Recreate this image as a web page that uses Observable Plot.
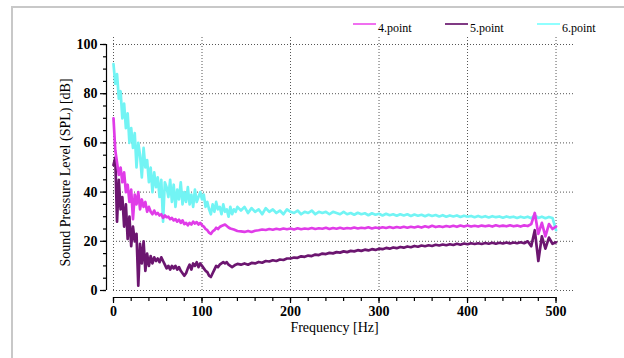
<!DOCTYPE html>
<html>
<head>
<meta charset="utf-8">
<script src="https://cdn.jsdelivr.net/npm/d3@7"></script>
<script src="https://cdn.jsdelivr.net/npm/@observablehq/plot@0.6"></script>
<style>
html,body{margin:0;padding:0;background:#fff;}
#wrap{position:relative;width:624px;height:358px;overflow:hidden;}
#frame{position:absolute;left:11px;top:6px;width:800px;height:600px;border-left:2px solid #c8c8c8;border-top:2px solid #c8c8c8;}
#chart{position:absolute;left:0;top:0;}
.lgline{position:absolute;height:0;width:23px;border-top:2px solid;}
.lgtext{position:absolute;font-family:"Liberation Serif",serif;font-size:12px;line-height:16px;color:#000;white-space:nowrap;}
</style>
</head>
<body>
<div id="wrap"><div id="frame"></div><div id="chart"></div><div id="legend"></div></div>
<script>
// ---- data ----
const seriesNames = ["4.point", "5.point", "6.point"];
const seriesColors = ["#e03ce8", "#6c1670", "#72f4f4"];
const legendColors = ["#f070f0", "#803a84", "#90ffff"];

const freq = [
  0,2,4,6,8,10,12,14,16,18,
  20,22,24,26,28,30,32,34,36,38,
  40,42,44,46,48,50,52,54,56,58,
  60,62,64,66,68,70,72,74,76,78,
  80,82,84,86,88,90,92,94,96,98,
  100,102,104,106,108,110,112,114,116,118,
  120,122,124,126,128,130,132,134,136,138,
  140,
  144,148,152,156,160,164,168,172,176,180,
  184,188,192,196,200,204,208,212,216,220,
  224,228,232,236,240,244,248,252,256,260,
  264,268,272,276,280,284,288,292,296,300,
  304,308,312,316,320,324,328,332,336,340,
  344,348,352,356,360,364,368,372,376,380,
  384,388,392,396,400,404,408,412,416,420,
  424,428,432,436,440,444,448,452,456,460,
  464,468,472,476,480,484,488,492,496,500
];

const point4 = [
  70,57,52,47,50,44,48,40,43,36,
  41,29,39,35,40,33,37,34,36,32,
  34,32,31,32.5,31,31.5,30.5,31,29.5,30.5,
  29.8,30,29,29.5,28.5,29,28,28.8,27.5,28.5,
  27,27.5,26.5,27.5,26.8,28,27.2,27.8,26.8,27.5,
  26.5,26,25,24.5,23.5,23,24,24.5,25.5,25,
  25.8,26.2,26.5,26.8,26.2,25.6,25.2,25,24.8,24.5,
  24.2,
  24,23.8,24.2,23.8,24.3,24.5,24.8,24.6,25,24.7,
  25.1,24.8,25.2,24.9,25.2,24.8,25.3,24.9,25.2,25,
  25.4,25,25.3,25.1,25.5,25,25.4,25.1,25.5,25.1,
  25.4,25.2,25.6,25.2,25.5,25.3,25.7,25.2,25.6,25.3,
  25.7,25.4,25.8,25.4,25.8,25.5,25.9,25.5,25.9,25.6,
  26,25.6,26.1,25.7,26.3,25.8,26.1,25.8,26.2,25.9,
  26.3,25.9,26.4,26,26.4,26,26.3,26,26.4,26.1,
  26.4,26,26.5,26.1,26.4,26.1,26.5,26.1,26.4,26,
  26.5,26.2,27,31.5,23,27.5,22,27,25,26
];

const point5 = [
  51,54,28,45,33,38,26,35,21,30,
  18,26,20,23,2,19,11,20,8,15,
  10,14,11,13.5,12,13,11.5,13.5,12,10.5,
  9,10,8.5,10,9,10,8.5,9.5,8,7,
  6,7,9,10.5,8.5,11,10,11.5,9.5,11,
  10,9,8,7.5,6,5.5,7,8.5,10,9.5,
  10.5,11,11.5,11,11.5,10.5,10,9.5,10,10.5,
  10.8,
  10.5,11,10.5,11.2,11,11.6,11.3,12,11.8,12.3,
  12,12.6,12.4,13,13,13.4,13.3,13.9,13.7,14.2,
  14,14.6,14.4,15,14.8,15.3,15.1,15.6,15.4,15.9,
  15.6,16.1,15.9,16.4,16.1,16.6,16.3,16.8,16.5,17,
  16.8,17.3,17,17.5,17.2,17.7,17.4,17.9,17.6,18.1,
  17.8,18.3,18,18.4,18.1,18.6,18.3,18.7,18.4,18.8,
  18.5,19,18.6,19.1,18.8,19.2,18.9,19.2,18.9,19.3,
  19,19.4,19,19.4,19.1,19.5,19.1,19.5,19.2,19.6,
  19.2,20,18,24.5,12,22,17,21.5,19,19.6
];

const point6 = [
  92,84,88,78,81,70,76,66,72,60,
  66,58,64,50,60,55,46,58,50,53,
  44,50,40,48,42,46,38,45,28,44,
  42,38,45,36,43,34,41,37,44,35,
  40,36,42,35,39,34,41,36,38,40,
  37,39,34,36,33,31,35,32,36,33,
  34,31,35,32,33,30,34,31,33,32,
  34,
  32.5,34,31.5,33.5,32,33,31,33.5,32,33,
  31.5,32.5,31,33,32,31.5,32.5,31,32,31.5,
  32.5,31,32,31.5,32,31,32,31.5,31,32,
  31,31.5,30.8,31.6,31,31.4,30.6,31.4,30.8,31.2,
  30.5,31.2,30.6,31,30.4,31,30.5,31,30.3,30.9,
  30.4,30.8,30.2,30.8,30.3,30.7,30.1,30.6,30,30.5,
  30.1,30.5,29.9,30.4,30,30.3,29.8,30.3,29.8,30.2,
  29.7,30.2,29.8,30.1,29.6,30.1,29.7,30,29.5,30,
  29.6,30,29.4,30.6,29.5,30,29.4,29.9,29.5,24.5
];

const xTicks = [0,100,200,300,400,500];
const xMinor = [0,20,40,60,80,100,120,140,160,180,200,220,240,260,280,300,320,340,360,380,400,420,440,460,480,500];
const yTicks = [0,20,40,60,80,100];
const yMinor = [0,5,10,15,20,25,30,35,40,45,50,55,60,65,70,75,80,85,90,95,100];
const xTitle = "Frequency [Hz]";
const yTitle = "Sound Pressure Level (SPL) [dB]";

// ---- build table (draw order: 6, 5, 4) ----
const seriesValues = {"4.point": point4, "5.point": point5, "6.point": point6};
const drawOrder = ["6.point", "5.point", "4.point"];
const rows = [];
for (const name of drawOrder) {
  const vals = seriesValues[name];
  const n = Math.min(vals.length, freq.length);
  for (let i = 0; i < n; i++) rows.push({series: name, f: freq[i], v: vals[i]});
}

const gridStyle = {stroke: "#555", strokeOpacity: 1, strokeWidth: 1, strokeDasharray: "1,2"};

const chart = Plot.plot({
  width: 624,
  height: 358,
  marginLeft: 113,
  marginRight: 49,
  marginTop: 44,
  marginBottom: 68,
  style: {fontFamily: "'Liberation Serif', serif", color: "#000", background: "transparent", overflow: "visible"},
  x: {domain: [0, 522], label: null},
  y: {domain: [0, 100], label: null},
  color: {domain: seriesNames, range: seriesColors},
  marks: [
    Plot.gridY(yTicks, gridStyle),
    Plot.ruleX(xTicks, {y1: 0, y2: 103, ...gridStyle}),
    Plot.line(rows, {x: "f", y: "v", z: "series", stroke: "series", strokeWidth: 2.7, strokeLinejoin: "round"}),
    // x axis
    Plot.ruleY([0], {x1: 0, x2: 500, dy: 7, stroke: "#000", strokeWidth: 1.2}),
    Plot.axisX(xMinor, {anchor: "bottom", dy: 7, tickSize: 4, text: null, label: null, strokeWidth: 1.2}),
    Plot.axisX(xTicks, {anchor: "bottom", dy: 7, tickSize: 6, tickPadding: 3, fontSize: 14, fontWeight: "bold", label: null, strokeWidth: 1.2}),
    // y axis
    Plot.ruleX([0], {y1: 0, y2: 100, dx: -7, stroke: "#000", strokeWidth: 1.2}),
    Plot.axisY(yMinor, {anchor: "left", dx: -7, tickSize: 3, text: null, label: null, strokeWidth: 1.2}),
    Plot.axisY(yTicks, {anchor: "left", dx: -7, tickSize: 6, tickPadding: 3, fontSize: 14, fontWeight: "bold", label: null, strokeWidth: 1.2}),
    // titles
    Plot.text([xTitle], {frameAnchor: "bottom", dx: -10, dy: 41, fontSize: 14, fill: "#000"}),
    Plot.text([yTitle], {frameAnchor: "left", textAnchor: "middle", rotate: -90, dx: -48, dy: 5, fontSize: 14, fill: "#000"})
  ]
});
document.getElementById("chart").appendChild(chart);

// ---- legend ----
const legend = document.getElementById("legend");
seriesNames.forEach((name, i) => {
  const left = 353 + 92 * i;
  const ln = document.createElement("div");
  ln.className = "lgline";
  ln.style.left = left + "px";
  ln.style.top = "23px";
  ln.style.borderTopColor = legendColors[i];
  legend.appendChild(ln);
  const tx = document.createElement("div");
  tx.className = "lgtext";
  tx.style.left = (left + 25) + "px";
  tx.style.top = "20px";
  tx.textContent = name;
  legend.appendChild(tx);
});
</script>
</body>
</html>
